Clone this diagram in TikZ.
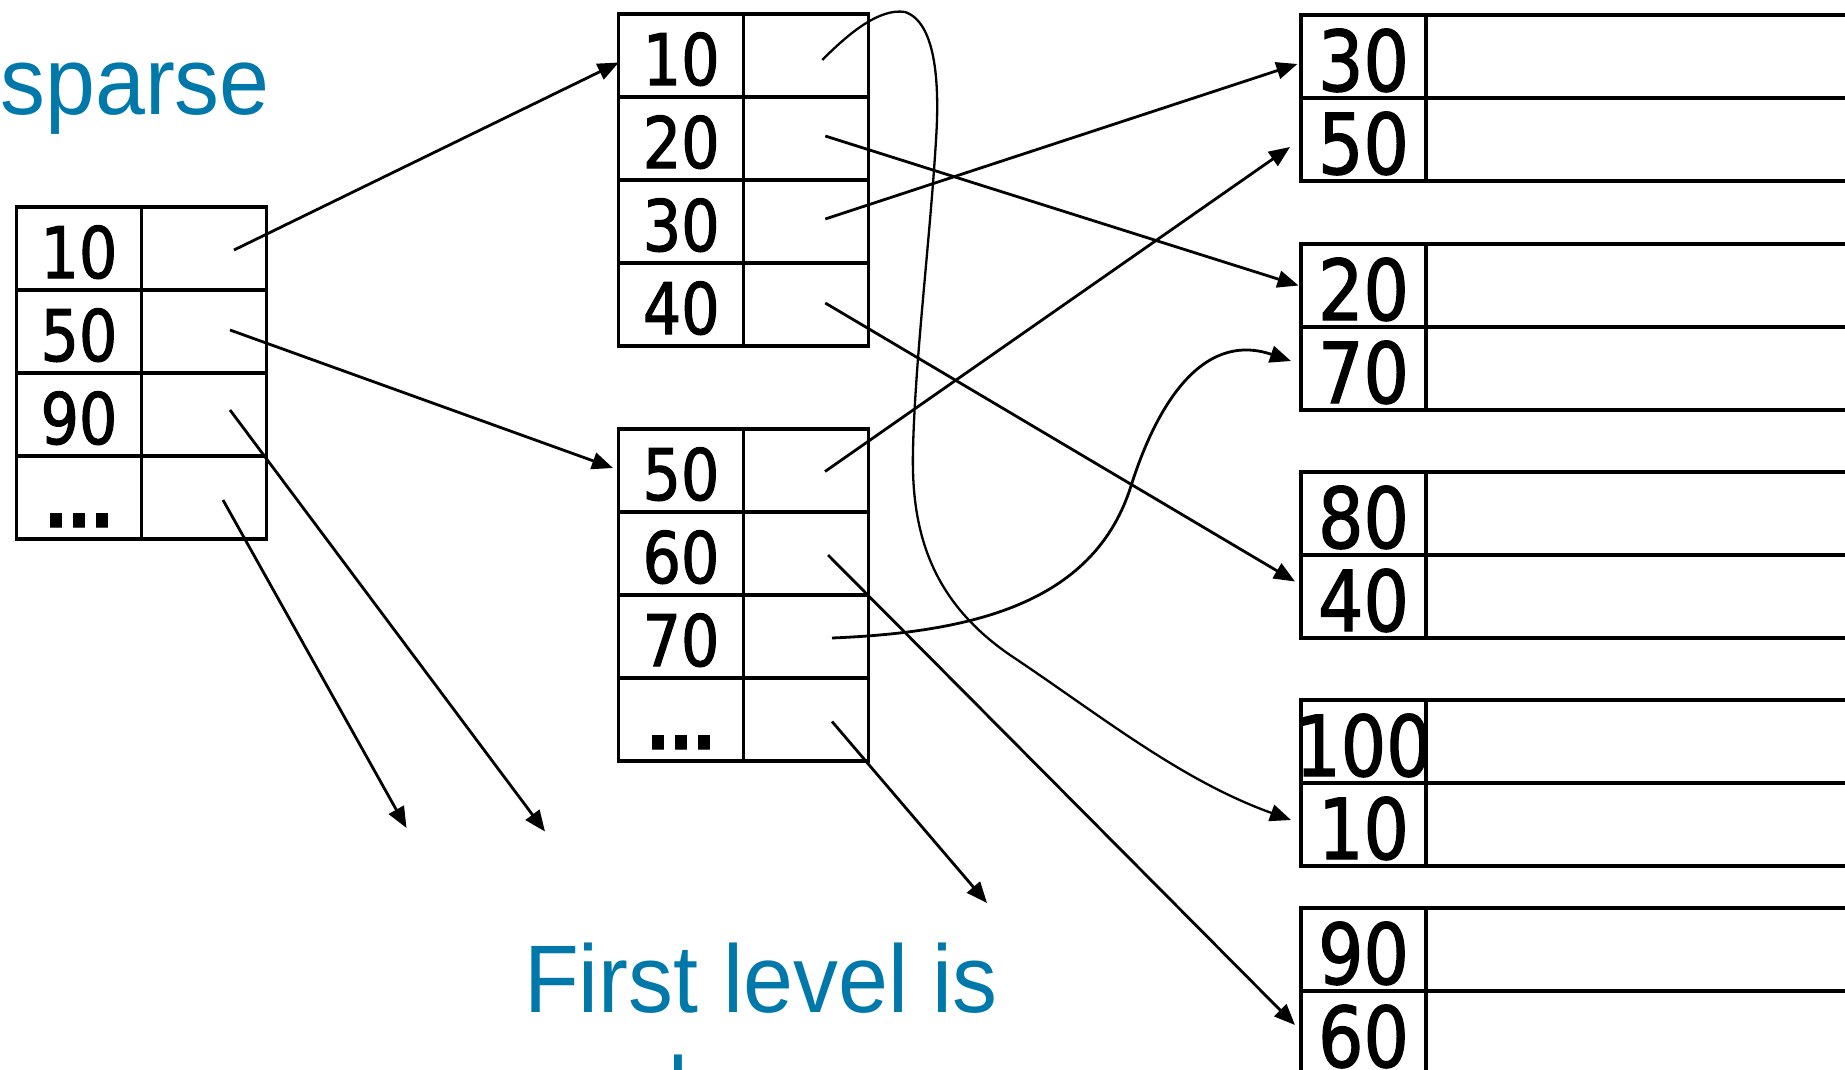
\documentclass[tikz,border=0pt]{standalone}
\usepackage{fontspec}
\usetikzlibrary{arrows.meta,calc}
\newfontfamily\numfont[FakeStretch=0.85,FakeBold=1.5]{DejaVu Sans}
\newfontfamily\notefont[FakeStretch=0.935]{Liberation Sans}
\definecolor{noteblue}{RGB}{0,121,170}

% one row of an index block: key cell #1k#2 at (#3,#4) with text #5, pointer cell #1p#2 beside it
\newcommand{\idxrow}[5]{%
  \node[key] (#1k#2) at (#3,#4) {#5};
  \node[ptr] (#1p#2) at (#1k#2.north east) {};}
% a two-record data block: keys #3 and #4, top edge at y=#2
\newcommand{\datablock}[4]{%
  \node[rkey] (#1a) at (1301,#2) {\makebox[0pt]{#3}};
  \node[rdata] (#1ad) at (#1a.north east) {};
  \node[rkey] (#1b) at (#1a.south west) {\makebox[0pt]{#4}};
  \node[rdata] (#1bd) at (#1b.north east) {};}
\newcommand{\more}{{\bfseries...}}

\begin{document}
\begin{tikzpicture}[x=1pt,y=-1pt,
  cell/.style={draw, line width=3.4pt, inner sep=0pt, outer sep=0pt,
    minimum height=83pt, anchor=north west},
  key/.style={cell, minimum width=125pt,
    font=\numfont\fontsize{71}{71}\selectfont, text height=59pt, text depth=0pt},
  ptr/.style={cell, minimum width=125pt},
  rkey/.style={cell, minimum width=125pt,
    font=\numfont\fontsize{84}{84}\selectfont, text height=69pt, text depth=0pt},
  rdata/.style={cell, minimum width=450pt},
  link/.style={line width=2.8pt, -{Triangle[length=21pt,width=17pt]}},
  note/.style={text=noteblue, font=\notefont\fontsize{96}{112}\selectfont, inner sep=0pt}
]
\useasboundingbox (0,0) rectangle (1845,1070);
\fill[white] (0,0) rectangle (1845,1070);
\clip (0,0) rectangle (1845,1070);

% first-level (sparse) index
\idxrow{a}{1}{16.5}{207}{10}
\idxrow{a}{2}{16.5}{290}{50}
\idxrow{a}{3}{16.5}{373}{90}
\idxrow{a}{4}{16.5}{456}{\more}

% second-level index blocks
\idxrow{b}{1}{618.75}{14}{10}
\idxrow{b}{2}{618.75}{97}{20}
\idxrow{b}{3}{618.75}{180}{30}
\idxrow{b}{4}{618.75}{263}{40}

\idxrow{c}{1}{618.5}{429}{50}
\idxrow{c}{2}{618.5}{512}{60}
\idxrow{c}{3}{618.5}{595}{70}
\idxrow{c}{4}{618.5}{678}{\more}

% data blocks
\datablock{r1}{15}{30}{50}
\datablock{r2}{244}{20}{70}
\datablock{r3}{472}{80}{40}
\datablock{r4}{700}{100}{10}
\datablock{r5}{908}{90}{60}

% loose ends of pointers into blocks not shown
\coordinate (aout3) at (545,831.5);
\coordinate (aout4) at (406.5,828);
\coordinate (cout4) at (987,903);

% pointers of the first level
\draw[link] ($(ap1.center)+(30,1.5)$) -- ($(bk1.west)+(0,7)$);
\draw[link] ($(ap2.center)+(26,-1.5)$) -- ($(ck1.west)+(-5.5,-2.5)$);
\draw[link] ($(ap3.center)+(26,-4.5)$) -- (aout3);
\draw[link] ($(ap4.center)+(19,2.5)$) -- (aout4);

% pointers of the second level
\draw[link, line width=2.3pt] ($(bp1.center)+(16,4.5)$)
  .. controls (850,32) and (880,8) .. (905,12)
  .. controls (935,22) and (940,80) .. (936,140)
  .. controls (930,240) and (915,360) .. (913,450)
  .. controls (911,530) and (930,600) .. (1010,655)
  .. controls (1100,715) and (1180,780) .. ($(r4b.west)+(-10,-4.5)$);
\draw[link] ($(bp2.center)+(19,-2.5)$) -- ($(r2a.west)+(-2.5,0)$);
\draw[link] ($(bp3.center)+(19,-2.5)$) -- ($(r1a.west)+(-3.6,7.5)$);
\draw[link] ($(bp4.center)+(19,-1.5)$) -- ($(r3b.west)+(-6,-15)$);

\draw[link] ($(cp1.center)+(19,1)$) -- ($(r1b.west)+(-11,7.5)$);
\draw[link] ($(cp2.center)+(22,1.5)$) -- ($(r5b.west)+(-6,-7.5)$);
\draw[link] ($(cp3.center)+(26,1.5)$)
  .. controls (980,632) and (1095,600) .. (1131,486)
  .. controls (1155,410) and (1200,330) .. ($(r2b.west)+(-10,-7.5)$);
\draw[link] ($(cp4.center)+(26,2)$) -- (cout4);

% captions
\node[note, anchor=base east] (sparse) at (270,115) {sparse};
\node[note, anchor=base] (lvl) at (761,1012) {First level is};
\node[note, anchor=base] (lvl2) at ($(lvl.base)+(0,112)$) {dense};
\end{tikzpicture}
\end{document}
